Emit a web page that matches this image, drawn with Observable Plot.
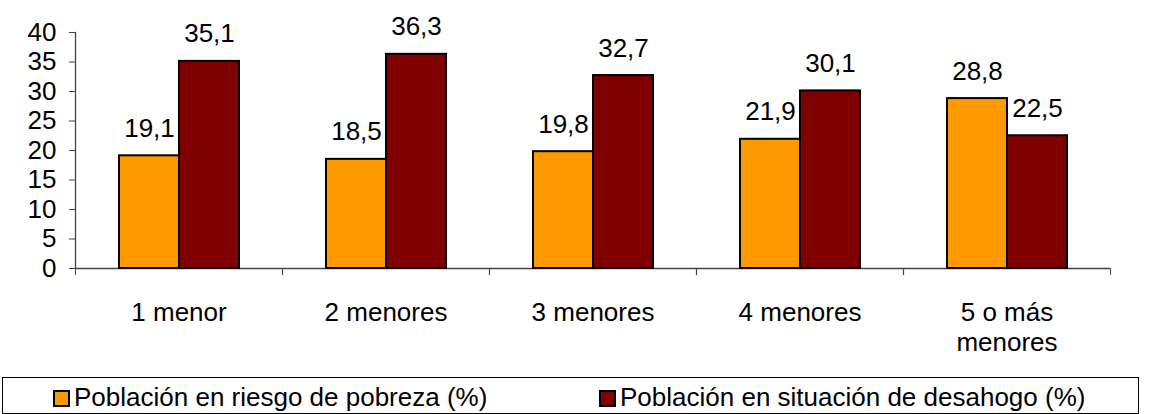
<!DOCTYPE html>
<html>
<head>
<meta charset="utf-8">
<script src="https://cdn.jsdelivr.net/npm/d3@7"></script>
<script src="https://cdn.jsdelivr.net/npm/@observablehq/plot@0.6"></script>
<style>
  html, body { margin: 0; padding: 0; background: #fff; }
  #wrap { position: relative; width: 1155px; height: 414px; font-family: "Liberation Sans", Arial, sans-serif; overflow: hidden; }
  #legend { position: absolute; left: 2px; top: 377px; width: 1137px; height: 37px; border: 1px solid #000; box-sizing: border-box; }
  .item { position: absolute; top: 2px; height: 35px; display: flex; align-items: center; font-size: 26px; color: #000; white-space: nowrap; }
  .sw { width: 17px; height: 17px; border: 2px solid #000; box-sizing: border-box; margin-right: 4px; margin-top: 2px; }
</style>
</head>
<body>
<div id="wrap">
  <div id="chart"></div>
  <div id="legend"></div>
</div>
<script>
const categories = ["1 menor", "2 menores", "3 menores", "4 menores", "5 o más menores"];
const tickLabels = ["1 menor", "2 menores", "3 menores", "4 menores", "5 o más\nmenores"];
const series = ["Población en riesgo de pobreza (%)", "Población en situación de desahogo (%)"];
const pobreza = [19.1, 18.5, 19.8, 21.9, 28.8];
const desahogo = [35.1, 36.3, 32.7, 30.1, 22.5];
const yTicks = [0, 5, 10, 15, 20, 25, 30, 35, 40];
const colors = ["#FF9900", "#800000"];

const data = categories.flatMap((c, i) => [
  {cat: c, serie: series[0], value: pobreza[i]},
  {cat: c, serie: series[1], value: desahogo[i]}
]);

const W = 1155, ML = 74, MR = 45;
const bw = (W - ML - MR) / categories.length;
const fmt = v => d3.format(".1f")(v).replace(".", ",");

const chart = Plot.plot({
  width: W,
  height: 360,
  marginLeft: ML,
  marginRight: MR,
  marginTop: 32,
  marginBottom: 92,
  style: {fontFamily: "'Liberation Sans', Arial, sans-serif", fontSize: "26px", color: "#000", background: "#fff"},
  fx: {domain: categories, padding: 0, label: null, axis: null},
  x: {domain: series, paddingInner: 0, paddingOuter: 0.725, axis: null},
  y: {domain: [0, 40], label: null, axis: null},
  color: {domain: series, range: colors},
  marks: [
    Plot.ruleY([0], {stroke: "#444", strokeWidth: 1.3}),
    Plot.barY(data, {fx: "cat", x: "serie", y: "value", fill: "serie", stroke: "#000", strokeWidth: 2}),
    Plot.text(data, {fx: "cat", x: "serie", y: "value", text: d => fmt(d.value), lineAnchor: "bottom", dy: -19, fontSize: 26, fill: "#000"}),
    Plot.axisY({ticks: yTicks, tickSize: 6, tickPadding: 13, label: null, stroke: "#444", fill: "#000", fontSize: 26}),
    Plot.frame({anchor: "left", facetAnchor: "left", stroke: "#444", strokeWidth: 1.3}),
    Plot.axisFx({anchor: "bottom", tickSize: 0, tickPadding: 31, tickFormat: d => tickLabels[categories.indexOf(d)], label: null, lineHeight: 1.15, fontSize: 26, fill: "#000"}),
    Plot.axisFx({anchor: "bottom", tickSize: 7, tickFormat: () => "", dx: -bw / 2, label: null, stroke: "#444"}),
    Plot.axisFx({anchor: "bottom", tickSize: 7, tickFormat: () => "", dx: bw / 2, label: null, stroke: "#444"})
  ]
});
document.getElementById("chart").appendChild(chart);

const legend = document.getElementById("legend");
const lefts = [50, 596];
series.forEach((s, i) => {
  const it = document.createElement("div");
  it.className = "item";
  it.style.left = lefts[i] + "px";
  const sw = document.createElement("div");
  sw.className = "sw";
  sw.style.background = colors[i];
  it.appendChild(sw);
  const t = document.createElement("span");
  t.textContent = s;
  it.appendChild(t);
  legend.appendChild(it);
});
</script>
</body>
</html>
